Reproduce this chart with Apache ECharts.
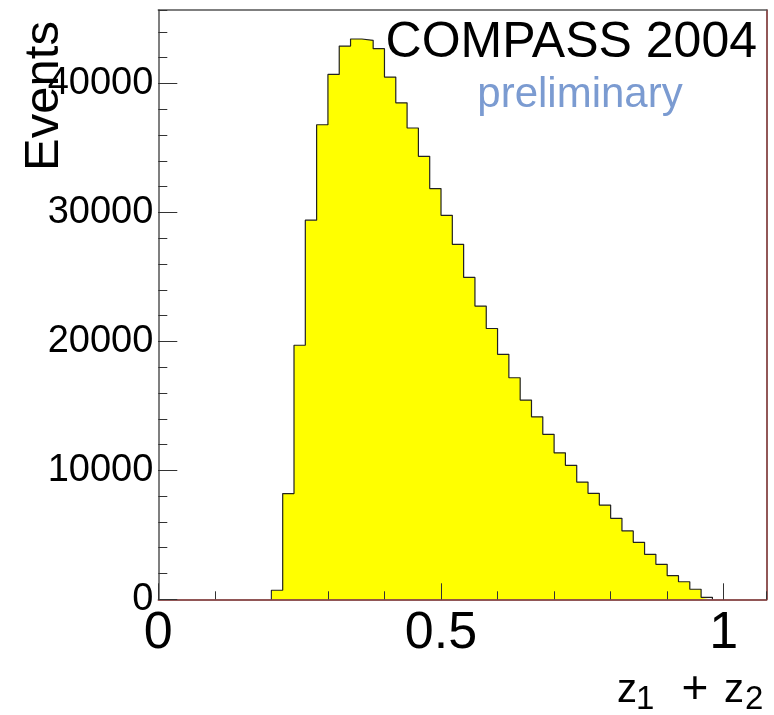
<!DOCTYPE html>
<html><head><meta charset="utf-8">
<script src="https://cdn.jsdelivr.net/npm/echarts@6/dist/echarts.min.js"></script>
<style>html,body{margin:0;padding:0;background:#fff}#c{width:774px;height:715px}</style>
</head><body><div id="c"></div>
<script>
// Histogram bins (lower edges) and counts
const binLow = [0.20,0.22,0.24,0.26,0.28,0.30,0.32,0.34,0.36,0.38,
                0.40,0.42,0.44,0.46,0.48,0.50,0.52,0.54,0.56,0.58,
                0.60,0.62,0.64,0.66,0.68,0.70,0.72,0.74,0.76,0.78,
                0.80,0.82,0.84,0.86,0.88,0.90,0.92,0.94,0.96];
const binEnd = 0.98;
const counts = [700,8200,19700,29400,36800,40700,42900,43450,43350,42700,
                40500,38500,36550,34350,31850,29780,27530,24960,22740,21000,
                19000,17180,15450,14150,12790,11360,10390,9090,8220,7310,
                6280,5300,4420,3490,2710,1830,1360,780,150];
const xRange = [0, 1.076];
const yRange = [0, 45700];
const xTitle = ['z','1','+','z','2'];
const yTitle = 'Events';
const labelMain = 'COMPASS 2004';
const labelSub = 'preliminary';

const stepData = [[binLow[0], 0]];
binLow.forEach((x, i) => stepData.push([x, counts[i]]));
stepData.push([binEnd, 0]);

const FONT = 'Liberation Sans, Arial, sans-serif';
const chart = echarts.init(document.getElementById('c'), null, {renderer: 'canvas'});
const grid = {left: 158.3, top: 10, right: 7.3, bottom: 115.7};

chart.setOption({
  backgroundColor: '#ffffff',
  animation: false,
  grid: grid,
  xAxis: [
    {type: 'value', position: 'bottom', min: xRange[0], max: xRange[1], interval: 0.5, z: 5,
     axisLine: {show: true, onZero: false, lineStyle: {color: '#6e1f1f', width: 1.5}},
     axisTick: {show: true, inside: true, length: 16, lineStyle: {color: '#333', width: 1}},
     axisLabel: {show: true, fontSize: 52, fontFamily: FONT, color: '#000', margin: 8,
                 showMaxLabel: false, formatter: v => String(v)},
     splitLine: {show: false}},
    {type: 'value', position: 'bottom', min: xRange[0], max: xRange[1], interval: 0.1, z: 5,
     axisLine: {show: false, onZero: false},
     axisTick: {show: true, inside: true, length: 8, lineStyle: {color: '#333', width: 1}},
     axisLabel: {show: false}, splitLine: {show: false}},
    {type: 'value', position: 'top', min: xRange[0], max: xRange[1], z: 5,
     axisLine: {show: true, onZero: false, lineStyle: {color: '#555', width: 1.5}},
     axisTick: {show: false}, axisLabel: {show: false}, splitLine: {show: false}}
  ],
  yAxis: [
    {type: 'value', position: 'left', min: yRange[0], max: yRange[1], interval: 10000, z: 5,
     axisLine: {show: true, onZero: false, lineStyle: {color: '#555', width: 1.5}},
     axisTick: {show: true, inside: true, length: 19, lineStyle: {color: '#333', width: 1}},
     axisLabel: {show: true, fontSize: 38, fontFamily: FONT, color: '#000', margin: 5,
                 showMaxLabel: false, formatter: v => String(v)},
     splitLine: {show: false}},
    {type: 'value', position: 'left', min: yRange[0], max: yRange[1], interval: 2000, z: 5,
     axisLine: {show: false, onZero: false},
     axisTick: {show: true, inside: true, length: 9, lineStyle: {color: '#333', width: 1}},
     axisLabel: {show: false}, splitLine: {show: false}},
    {type: 'value', position: 'right', min: yRange[0], max: yRange[1], z: 5,
     axisLine: {show: true, onZero: false, lineStyle: {color: '#6e1f1f', width: 1.5}},
     axisTick: {show: false}, axisLabel: {show: false}, splitLine: {show: false}}
  ],
  series: [{
    type: 'line', xAxisIndex: 0, yAxisIndex: 0, step: 'end', z: 1,
    data: stepData, symbol: 'none',
    lineStyle: {color: '#222', width: 1.2},
    areaStyle: {color: '#ffff00', opacity: 1, origin: 'start'}
  }],
  graphic: [
    {type: 'text', x: 757, y: 43, z: 10,
     style: {text: labelMain, font: '50px ' + FONT, fill: '#000', textAlign: 'right', textVerticalAlign: 'middle'}},
    {type: 'text', x: 580, y: 95, z: 10,
     style: {text: labelSub, font: '42px ' + FONT, fill: '#7b9bd1', textAlign: 'center', textVerticalAlign: 'middle'}},
    {type: 'text', x: 44, y: 96, rotation: Math.PI / 2, z: 10,
     style: {text: yTitle, font: '49px ' + FONT, fill: '#000', textAlign: 'center', textVerticalAlign: 'middle'}},
    {type: 'text', x: 617, y: 691, z: 10,
     style: {text: xTitle[0], font: '40px ' + FONT, fill: '#000', textAlign: 'left', textVerticalAlign: 'middle'}},
    {type: 'text', x: 636, y: 700, z: 10,
     style: {text: xTitle[1], font: '33px ' + FONT, fill: '#000', textAlign: 'left', textVerticalAlign: 'middle'}},
    {type: 'text', x: 695, y: 690, z: 10,
     style: {text: xTitle[2], font: '46px ' + FONT, fill: '#000', textAlign: 'center', textVerticalAlign: 'middle'}},
    {type: 'text', x: 724, y: 691, z: 10,
     style: {text: xTitle[3], font: '40px ' + FONT, fill: '#000', textAlign: 'left', textVerticalAlign: 'middle'}},
    {type: 'text', x: 745, y: 700, z: 10,
     style: {text: xTitle[4], font: '33px ' + FONT, fill: '#000', textAlign: 'left', textVerticalAlign: 'middle'}}
  ]
});
</script></body></html>
